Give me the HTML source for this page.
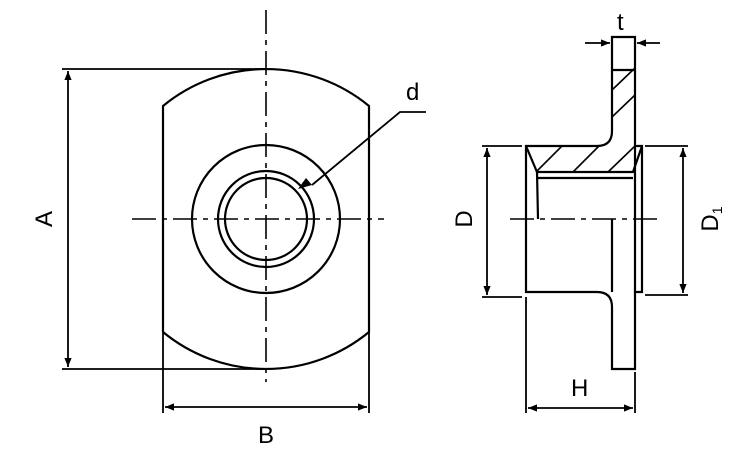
<!DOCTYPE html>
<html><head><style>body{margin:0;background:#fff}svg{display:block}text{font-family:"Liberation Sans",Arial,sans-serif;font-size:24px;fill:#000}</style></head>
<body>
<svg width="750" height="450" viewBox="0 0 750 450" xmlns="http://www.w3.org/2000/svg">
<defs>
<marker id="ar" viewBox="0 0 10 10" refX="10" refY="5" markerWidth="16" markerHeight="9" markerUnits="userSpaceOnUse" orient="auto-start-reverse"><path d="M0,1 L10,5 L0,9 z" fill="#000"/></marker>
</defs>
<g stroke="#000" fill="none" stroke-width="2.2">
<path d="M163,332 L163,106 A162,162 0 0 1 369,106 L369,332 A162,162 0 0 1 163,332"/>
<circle cx="266" cy="219" r="74"/>
<circle cx="266" cy="219" r="48"/>
<circle cx="266" cy="219" r="41"/>
<g stroke-width="1.6" stroke-dasharray="24,6,5,6">
<line x1="266" y1="10" x2="266" y2="382"/>
<line x1="132" y1="219" x2="384" y2="219"/>
</g>
<g stroke-width="1.8">
<line x1="62" y1="69" x2="266" y2="69"/>
<line x1="62" y1="369" x2="266" y2="369"/>
<line x1="68" y1="71" x2="68" y2="367" marker-start="url(#ar)" marker-end="url(#ar)"/>
<line x1="163" y1="332" x2="163" y2="413"/>
<line x1="369" y1="332" x2="369" y2="413"/>
<line x1="165" y1="407" x2="367" y2="407" marker-start="url(#ar)" marker-end="url(#ar)"/>
<polyline points="426,112 400,112 312,185"/>
</g>
<path d="M312,185 L298,189 L306,178z" fill="#000" stroke="none"/>
<path d="M612,37 L635,37 L635,146 L642,146 L642,292 L635,292 L635,369 L612,369 L612,307 Q612,292 597,292 L526,292 L526,146 L597,146 Q612,146 612,131 Z"/>
<line x1="612" y1="70" x2="635" y2="70"/>
<path d="M526,146 L537,172 L633,172 L642,146"/>
<line x1="537" y1="178" x2="633" y2="178"/>
<line x1="537" y1="172" x2="538" y2="219"/>
<line x1="635" y1="146" x2="635" y2="292"/>
<line x1="612" y1="219" x2="612" y2="292"/>
<g stroke-width="1.6">
<line x1="612" y1="90" x2="635" y2="68"/>
<line x1="612" y1="117" x2="635" y2="95"/>
<line x1="536" y1="172" x2="562" y2="146"/>
<line x1="573" y1="172" x2="599" y2="146"/>
<line x1="608" y1="172" x2="635" y2="146"/>
</g>
<g stroke-width="1.6" stroke-dasharray="24,6,5,6">
<line x1="510" y1="219" x2="660" y2="219"/>
</g>
<g stroke-width="1.8">
<line x1="482" y1="146" x2="522" y2="146"/>
<line x1="645" y1="146" x2="688" y2="146"/>
<line x1="482" y1="297" x2="522" y2="297"/>
<line x1="645" y1="295" x2="688" y2="295"/>
<line x1="487" y1="148" x2="487" y2="295" marker-start="url(#ar)" marker-end="url(#ar)"/>
<line x1="683" y1="148" x2="683" y2="293" marker-start="url(#ar)" marker-end="url(#ar)"/>
<line x1="526" y1="297" x2="526" y2="413"/>
<line x1="635" y1="372" x2="635" y2="413"/>
<line x1="528" y1="408" x2="633" y2="408" marker-start="url(#ar)" marker-end="url(#ar)"/>
<line x1="585" y1="43" x2="610" y2="43" marker-end="url(#ar)"/>
<line x1="660" y1="43" x2="637" y2="43" marker-end="url(#ar)"/>
</g>
</g>
<text x="406" y="100">d</text>
<text x="258" y="443">B</text>
<text x="571" y="396">H</text>
<text x="617" y="30">t</text>
<text transform="translate(52,219) rotate(-90)" text-anchor="middle">A</text>
<text transform="translate(472,219) rotate(-90)" text-anchor="middle">D</text>
<text transform="translate(718,219) rotate(-90)" text-anchor="middle">D<tspan font-size="14" dy="4">1</tspan></text>
</svg>
</body></html>
